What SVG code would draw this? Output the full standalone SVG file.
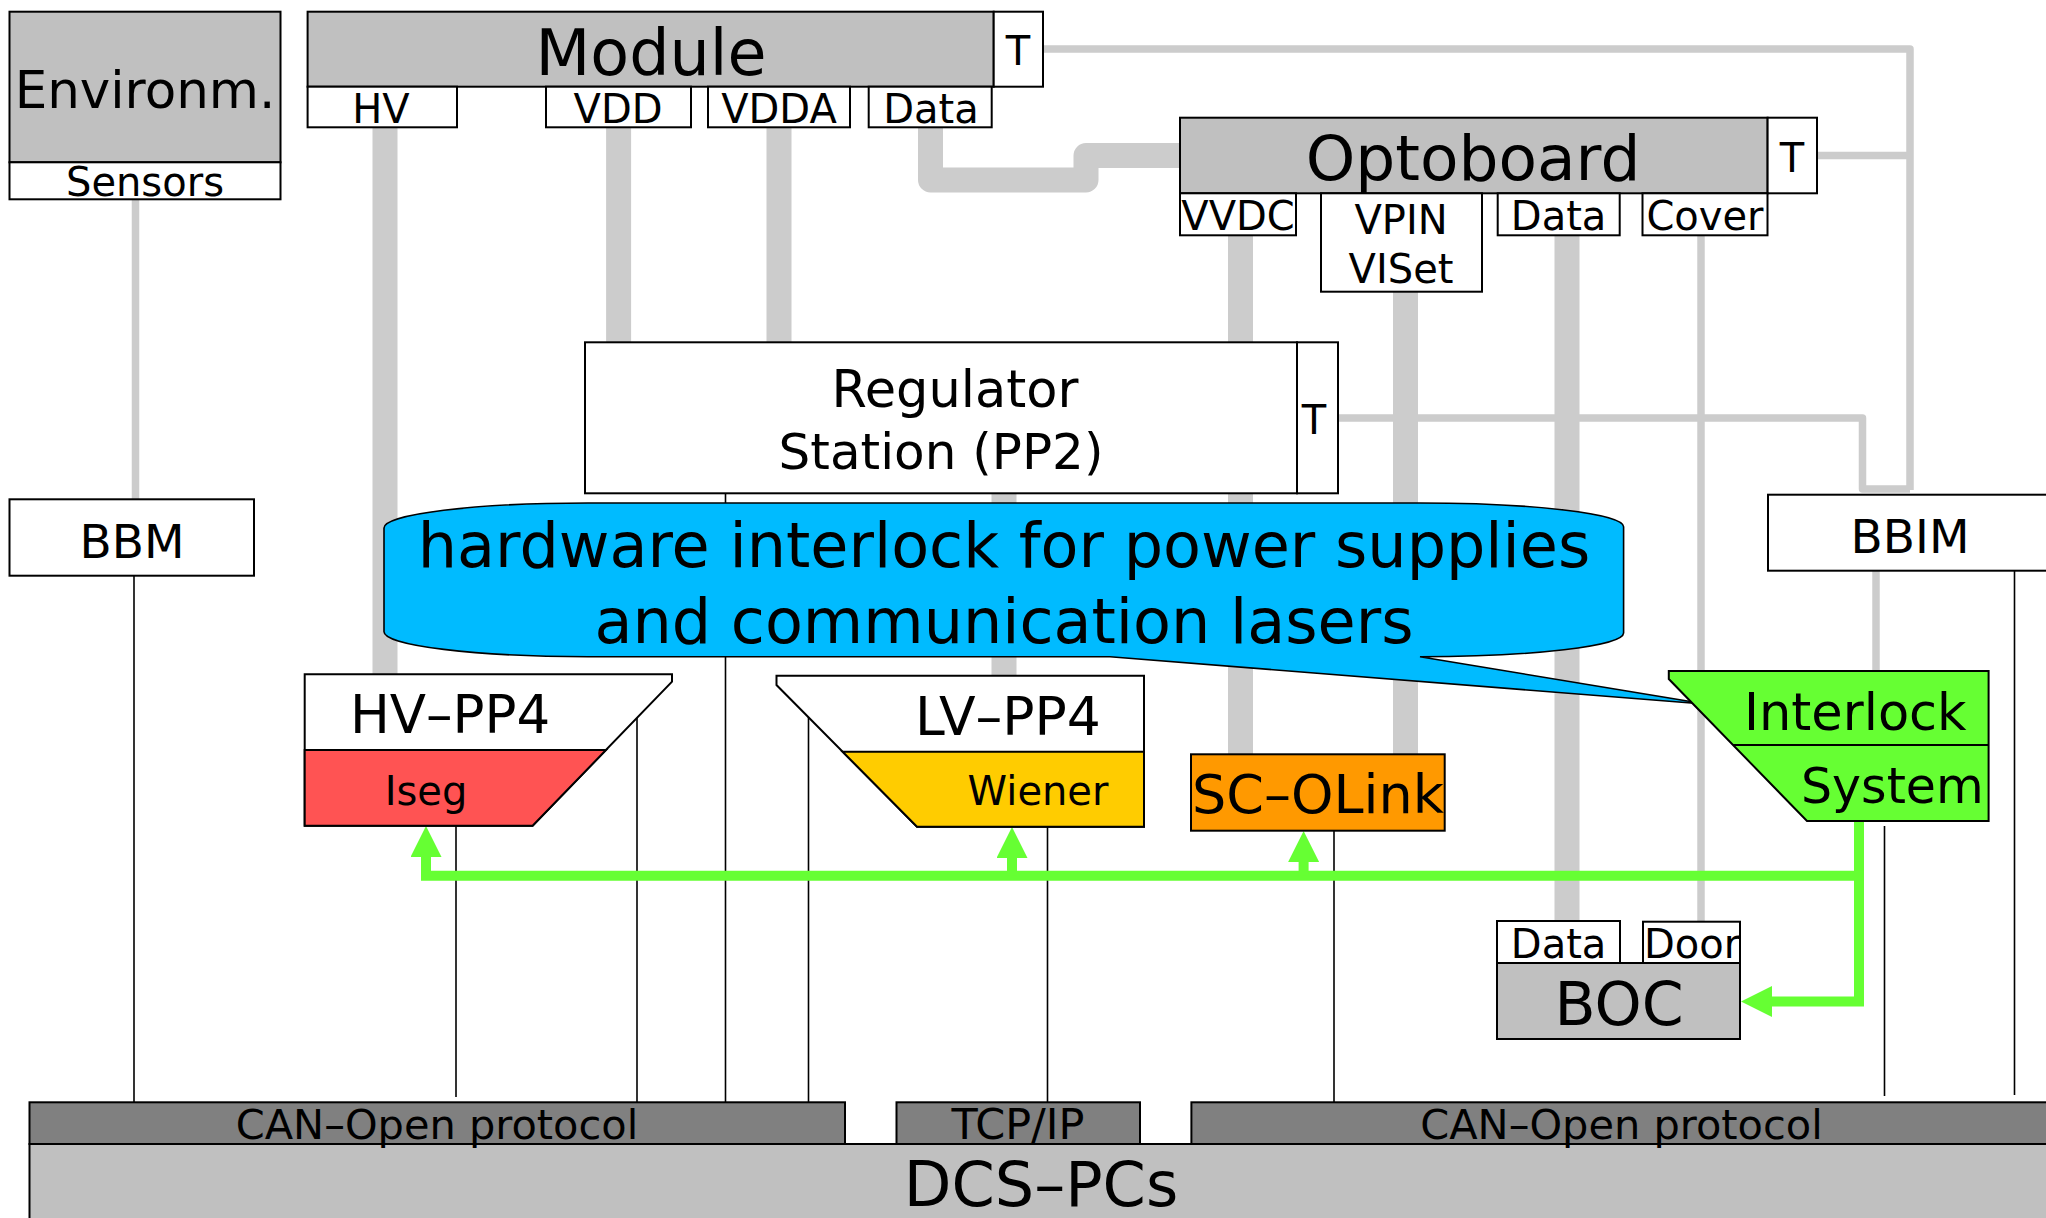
<svg xmlns="http://www.w3.org/2000/svg" width="2046" height="1218" viewBox="0 0 2046 1218">
<defs>
<style>
.box{stroke:#000;stroke-width:2}
.gray{fill:#c0c0c0}
.white{fill:#fff}
.thick{stroke:#cccccc;stroke-width:25;fill:none;stroke-linejoin:round}
.thin{stroke:#cccccc;stroke-width:7.5;fill:none;stroke-linejoin:round}
.wire{stroke:#000;stroke-width:1.6;fill:none}
.green{stroke:#66ff33;stroke-width:10;fill:none}
text{font-family:"DejaVu Sans",sans-serif;fill:#000;text-anchor:middle}
.f62{font-size:62px}
.f50{font-size:50px}
.f47{font-size:47px}
.f40{font-size:40px}
.bus{font-size:41.5px}
</style>
<marker id="ah" markerUnits="userSpaceOnUse" markerWidth="31" markerHeight="31" refX="0" refY="15.5" orient="auto" viewBox="0 0 31 31">
<path d="M0,0 L31,15.5 L0,31 Z" fill="#66ff33"/>
</marker>
</defs>
<rect width="2046" height="1218" fill="#fff"/>

<g id="connectors">
<path class="thick" d="M385 127 V674"/>
<path class="thick" d="M618.6 127 V342"/>
<path class="thick" d="M779 127 V342"/>
<path class="thick" d="M930.5 127 V180 H1086 V155.5 H1180"/>
<path class="thick" d="M1004 493 V676"/>
<path class="thick" d="M1240.5 235 V342 M1240.5 493 V754"/>
<path class="thick" d="M1405.5 291 V754"/>
<path class="thick" d="M1567 235 V921"/>
<path class="thin" d="M135.5 199 V499"/>
<path class="thin" d="M1043 49 H1910 V490"/>
<path class="thin" d="M1338 418 H1862.5 V489 H1910"/>
<path class="thin" d="M1817 155.5 H1910"/>
<path class="thin" d="M1701 235 V921"/>
<path class="thin" d="M1876 570 V671"/>
<path class="wire" d="M134 576 V1102"/>
<path class="wire" d="M725.5 493 V1102"/>
<path class="wire" d="M456 826 V1097"/>
<path class="wire" d="M637 716 V1102"/>
<path class="wire" d="M808.5 716 V1102"/>
<path class="wire" d="M1047.5 827 V1102"/>
<path class="wire" d="M1334 831 V1102"/>
<path class="wire" d="M1884.5 826 V1096"/>
<path class="wire" d="M2014.5 571 V1095"/>
<path class="green" d="M1859 821 V1001.5 H1772" marker-end="url(#ah)"/>
<path class="green" d="M1864 875.7 H426 V857" marker-end="url(#ah)"/>
<path class="green" d="M1012 875.7 V858" marker-end="url(#ah)"/>
<path class="green" d="M1303.6 875.7 V862" marker-end="url(#ah)"/>
</g>

<g id="environm">
<rect class="box gray" x="9.5" y="11.7" width="271" height="150.6"/>
<rect class="box white" x="9.5" y="162.3" width="271" height="37"/>
<text x="145" y="108" style="font-size:51.5px">Environm.</text>
<text class="f40" x="145" y="196">Sensors</text>
</g>

<g id="module">
<rect class="box gray" x="307.6" y="11.7" width="686.1" height="75"/>
<rect class="box white" x="993.7" y="11.7" width="49.3" height="75"/>
<rect class="box white" x="307.6" y="86.7" width="149.4" height="40.6"/>
<rect class="box white" x="546" y="86.7" width="145" height="40.6"/>
<rect class="box white" x="708" y="86.7" width="142" height="40.6"/>
<rect class="box white" x="868.7" y="86.7" width="123" height="40.6"/>
<text x="651" y="75" style="font-size:63.5px">Module</text>
<text class="f40" x="1018" y="65">T</text>
<text class="f40" x="381" y="123">HV</text>
<text class="f40" x="618" y="123">VDD</text>
<text class="f40" x="779" y="123">VDDA</text>
<text class="f40" x="931" y="123">Data</text>
</g>

<g id="optoboard">
<rect class="box gray" x="1180" y="117.7" width="587.6" height="75.6"/>
<rect class="box white" x="1767.6" y="117.7" width="49.4" height="75.6"/>
<rect class="box white" x="1180" y="193.3" width="116" height="42"/>
<rect class="box white" x="1321" y="193.3" width="161" height="98.4"/>
<rect class="box white" x="1497.7" y="193.3" width="122" height="42"/>
<rect class="box white" x="1642.5" y="193.3" width="125" height="42"/>
<text x="1473" y="180" style="font-size:63px">Optoboard</text>
<text class="f40" x="1792" y="172">T</text>
<text class="f40" x="1238" y="230">VVDC</text>
<text class="f40" x="1401" y="234">VPIN</text>
<text class="f40" x="1401" y="283">VISet</text>
<text class="f40" x="1558.6" y="230">Data</text>
<text class="f40" x="1705" y="230">Cover</text>
</g>

<g id="regulator">
<rect class="box white" x="585" y="342.3" width="712" height="151"/>
<rect class="box white" x="1297" y="342.3" width="41" height="151"/>
<text x="955" y="407" style="font-size:51px">Regulator</text>
<text class="f50" x="941" y="469">Station (PP2)</text>
<text class="f40" x="1314" y="434">T</text>
</g>

<g id="bbm">
<rect class="box white" x="9.5" y="499.3" width="244.5" height="76.4"/>
<text class="f47" x="132" y="558">BBM</text>
</g>

<g id="bbim">
<rect class="box white" x="1768" y="494.7" width="290" height="76"/>
<text class="f47" x="1910" y="553">BBIM</text>
</g>

<g id="callout">
<path d="M588 503 H1420 A203.6 23.7 0 0 1 1623.6 526.7 V633 A203.6 23.7 0 0 1 1420 656.7 L1707 704.3 L1110 656.7 H588 A204 25 0 0 1 384 631.7 V528 A204 25 0 0 1 588 503 Z" fill="#00bbff" stroke="#000" stroke-width="1.6"/>
<text class="f62" x="1004" y="567">hardware interlock for power supplies</text>
<text class="f62" x="1004" y="643">and communication lasers</text>
</g>

<g id="hv-pp4">
<path class="box white" d="M304.7 674.3 H672 V681.7 L532.6 825.7 H304.7 Z"/>
<path class="box" fill="#ff5353" d="M304.7 750 H606 L532.6 825.7 H304.7 Z"/>
<text x="350" y="733" style="font-size:53px;text-anchor:start">HV–PP4</text>
<text class="f40" x="426" y="805">Iseg</text>
</g>

<g id="lv-pp4">
<path class="box white" d="M776.5 675.7 H1144 V826.7 H917 L776.5 685 Z"/>
<path class="box" fill="#ffcc00" d="M842.6 751.7 H1144 V826.7 H917 Z"/>
<text x="915" y="735" style="font-size:53.5px;text-anchor:start">LV–PP4</text>
<text class="f40" x="1038" y="805">Wiener</text>
</g>

<g id="sc-olink">
<rect class="box" fill="#ff9900" x="1191" y="754.3" width="253.7" height="76.4"/>
<text x="1318" y="813" style="font-size:54px">SC–OLink</text>
</g>

<g id="interlock">
<path class="box" fill="#66ff33" d="M1668.8 671 H1988.6 V821 H1807 L1668.8 679 Z"/>
<path class="box" fill="none" d="M1733 745 H1988.6"/>
<text x="1744" y="730" style="font-size:51px;text-anchor:start">Interlock</text>
<text x="1801" y="803" style="font-size:49px;text-anchor:start">System</text>
</g>

<g id="boc">
<rect class="box white" x="1497" y="921" width="123" height="42"/>
<rect class="box white" x="1643" y="921.7" width="97" height="41.3"/>
<rect class="box gray" x="1497" y="963" width="243" height="76"/>
<text class="f40" x="1558.6" y="958">Data</text>
<text class="f40" x="1644" y="958" style="text-anchor:start">Door</text>
<text x="1619" y="1025" style="font-size:60px">BOC</text>
</g>

<g id="dcs-pcs">
<rect class="box gray" x="29.5" y="1144" width="2030" height="80"/>
<rect class="box" fill="#808080" x="29.5" y="1102.3" width="815.5" height="41.7"/>
<rect class="box" fill="#808080" x="896.5" y="1102.3" width="243.5" height="41.7"/>
<rect class="box" fill="#808080" x="1191.4" y="1102.3" width="870" height="41.7"/>
<text class="bus" x="437" y="1139">CAN–Open protocol</text>
<text x="1018" y="1139" style="font-size:43px">TCP/IP</text>
<text class="bus" x="1621.5" y="1139">CAN–Open protocol</text>
<text class="f62" x="1041" y="1206">DCS–PCs</text>
</g>
</svg>
